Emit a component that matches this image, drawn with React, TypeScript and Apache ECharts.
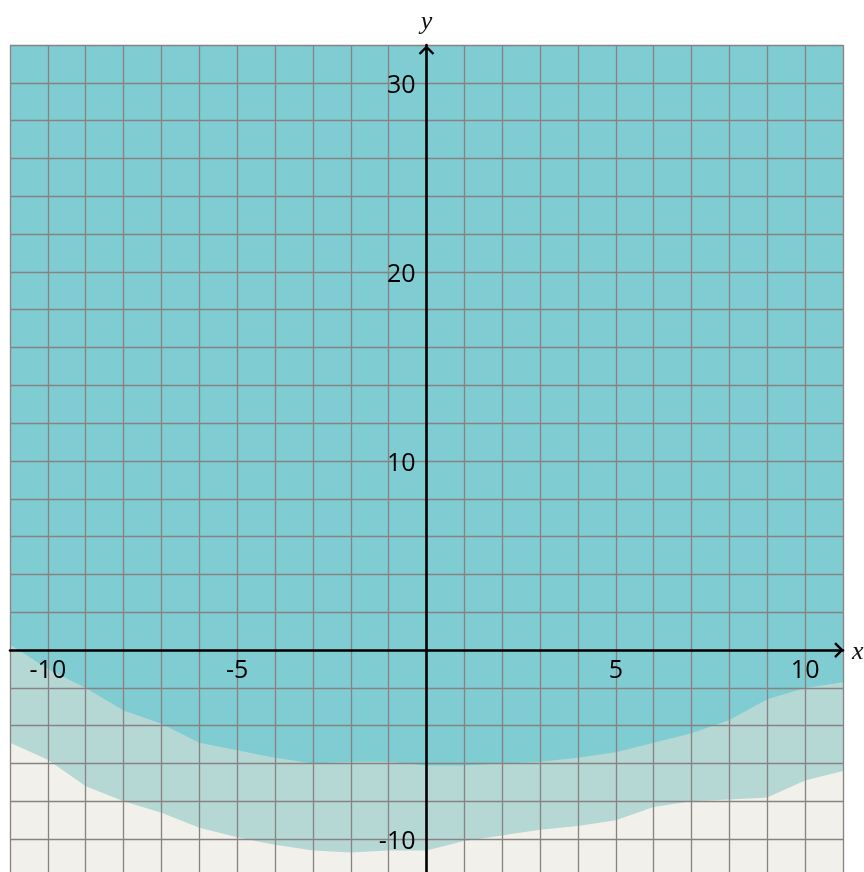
import React, { useEffect, useRef } from "react";
import * as echarts from "echarts";

const xValues = [-11, -10, -9, -8, -7, -6, -5, -4, -3, -2, -1, 0, 1, 2, 3, 4, 5, 6, 7, 8, 9, 10, 11];
const upperBoundary = [0.3, -1.0, -2.0, -3.2, -3.9, -4.9, -5.3, -5.7, -6.0, -5.9, -5.9, -6.1, -6.1, -6.0, -5.9, -5.7, -5.4, -4.9, -4.4, -3.7, -2.6, -2.0, -1.7];
const lowerBoundary = [-4.9, -5.8, -7.2, -8.0, -8.6, -9.4, -9.9, -10.3, -10.6, -10.7, -10.6, -10.6, -10.1, -9.8, -9.5, -9.3, -9.0, -8.3, -8.0, -7.9, -7.8, -6.9, -6.4];
const xTickLabels = [-10, -5, 5, 10];
const yTickLabels = [-10, 10, 20, 30];

const X_MIN = -11, X_MAX = 11, Y_MIN = -12, Y_MAX = 32;
const W = 864, H = 872;
const G_LEFT = 10, G_RIGHT = 21, G_TOP = 45, G_BOTTOM = -5;

export default function App() {
  const ref = useRef<HTMLDivElement>(null);
  useEffect(() => {
    if (!ref.current) return;
    const chart = echarts.init(ref.current, null, { renderer: "svg" });
    const gridW = W - G_LEFT - G_RIGHT;
    const gridH = H - G_TOP - G_BOTTOM;
    const xAxisOffset = -((0 - Y_MIN) / (Y_MAX - Y_MIN)) * gridH;
    const yAxisOffset = -((0 - X_MIN) / (X_MAX - X_MIN)) * gridW;
    const labelFont = { fontFamily: "Open Sans", fontSize: 25, color: "#000" };
    const splitLine = { show: true, lineStyle: { color: "#878383", width: 1.3 } };
    chart.setOption({
      animation: false,
      grid: { left: G_LEFT, right: G_RIGHT, top: G_TOP, bottom: G_BOTTOM, show: true, backgroundColor: "#F2F0EB", borderWidth: 0, containLabel: false, outerBoundsMode: "none" },
      xAxis: {
        type: "value",
        position: "bottom",
        offset: xAxisOffset,
        min: X_MIN,
        max: X_MAX,
        interval: 1,
        z: 5,
        name: "x",
        nameLocation: "end",
        nameGap: 9,
        nameTextStyle: { fontFamily: "Liberation Serif", fontStyle: "italic", fontSize: 26, color: "#111", verticalAlign: "middle" },
        axisLine: { show: true, onZero: false, lineStyle: { color: "#000", width: 2.6 } },
        axisTick: { show: false },
        splitLine,
        axisLabel: {
          ...labelFont,
          margin: 5,
          showMinLabel: true,
          showMaxLabel: true,
          formatter: (v: number) => (xTickLabels.includes(v) ? String(v) : ""),
        },
      },
      yAxis: {
        type: "value",
        position: "left",
        offset: yAxisOffset,
        min: Y_MIN,
        max: Y_MAX,
        interval: 2,
        z: 5,
        name: "y",
        nameLocation: "end",
        nameGap: 12,
        nameTextStyle: { fontFamily: "Liberation Serif", fontStyle: "italic", fontSize: 26, color: "#111", align: "center" },
        axisLine: { show: true, onZero: false, lineStyle: { color: "#000", width: 2.6 } },
        axisTick: { show: false },
        splitLine,
        axisLabel: {
          ...labelFont,
          margin: 11,
          formatter: (v: number) => (yTickLabels.includes(v) ? String(v) : ""),
        },
      },
      series: [
        {
          type: "line",
          data: xValues.map((x, i) => [x, lowerBoundary[i]]),
          symbol: "none",
          lineStyle: { width: 0 },
          areaStyle: { origin: "end", color: "#B6D8D4", opacity: 1 },
          z: 1,
          silent: true,
        },
        {
          type: "line",
          data: xValues.map((x, i) => [x, upperBoundary[i]]),
          symbol: "none",
          lineStyle: { width: 0 },
          areaStyle: { origin: "end", color: "#7FCCD2", opacity: 1 },
          z: 2,
          silent: true,
        },
      ],
    });
    const xTip = chart.convertToPixel({ gridIndex: 0 }, [X_MAX, 0]) as number[];
    const yTip = chart.convertToPixel({ gridIndex: 0 }, [0, Y_MAX]) as number[];
    const arrowStyle = { stroke: "#000", lineWidth: 2.4, fill: "none" };
    chart.setOption({
      graphic: [
        {
          type: "polyline",
          z: 100,
          shape: { points: [[xTip[0] - 8, xTip[1] - 7], [xTip[0] - 1, xTip[1]], [xTip[0] - 8, xTip[1] + 7]] },
          style: arrowStyle,
        },
        {
          type: "polyline",
          z: 100,
          shape: { points: [[yTip[0] - 7, yTip[1] + 9], [yTip[0], yTip[1] + 2], [yTip[0] + 7, yTip[1] + 9]] },
          style: arrowStyle,
        },
      ],
    });
    return () => chart.dispose();
  }, []);
  return <div ref={ref} style={{ position: "fixed", left: 0, top: 0, width: W, height: H }} />;
}
